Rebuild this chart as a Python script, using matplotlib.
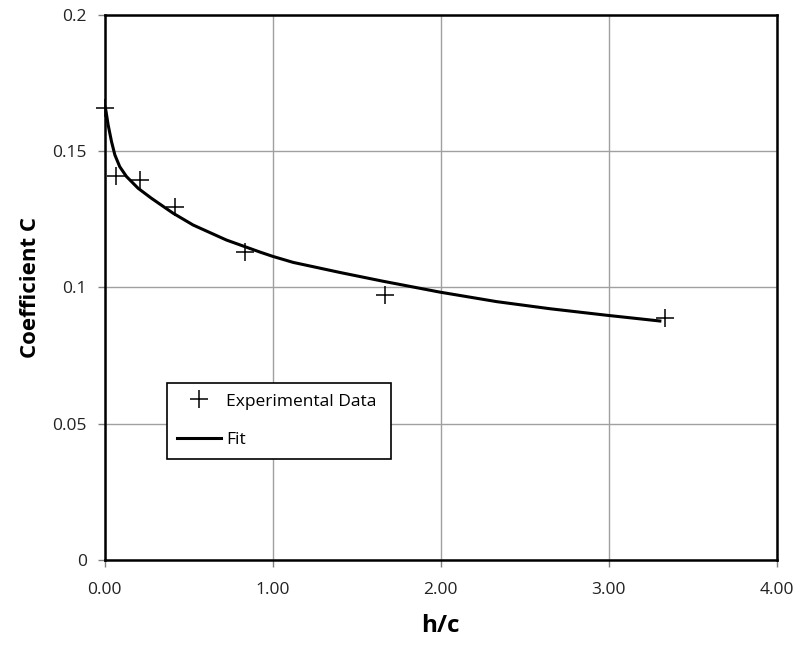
import matplotlib
matplotlib.use("Agg")
import matplotlib.pyplot as plt

# Experimental data
exp_x = [0.0, 0.067, 0.21, 0.417, 0.833, 1.667, 3.333]
exp_y = [0.166, 0.141, 0.1395, 0.1295, 0.113, 0.0972, 0.0888]

# Fit curve
fit_x = [0.0, 0.006, 0.02, 0.04, 0.06, 0.089, 0.129, 0.198, 0.278, 0.405,
         0.526, 0.724, 0.923, 1.0, 1.121, 1.4, 1.655, 1.994, 2.333, 2.65,
         2.988, 3.304]
fit_y = [0.1665, 0.1651, 0.1596, 0.1535, 0.1486, 0.1443, 0.1407, 0.1364,
         0.1327, 0.1273, 0.1229, 0.1174, 0.1130, 0.1114, 0.1092, 0.1055,
         0.1023, 0.0983, 0.0948, 0.0922, 0.0898, 0.0877]

x_ticks = [0, 1, 2, 3, 4]
x_ticklabels = ["0.00", "1.00", "2.00", "3.00", "4.00"]
y_ticks = [0, 0.05, 0.1, 0.15, 0.2]
y_ticklabels = ["0", "0.05", "0.1", "0.15", "0.2"]

plt.rcParams['font.family'] = ['Open Sans', 'DejaVu Sans']

fig = plt.figure(figsize=(8.0, 6.46), dpi=100)
ax = fig.add_axes([0.131, 0.133, 0.840, 0.844])

ax.plot(fit_x, fit_y, color='black', lw=2.2, label='Fit', zorder=3,
        solid_joinstyle='round')
ax.plot(exp_x, exp_y, ls='none', marker='+', ms=13, mew=1.1, color='black',
        label='Experimental Data', zorder=4, clip_on=False)

ax.set_xlim(0, 4)
ax.set_ylim(0, 0.2)
ax.set_xticks(x_ticks)
ax.set_xticklabels(x_ticklabels)
ax.set_yticks(y_ticks)
ax.set_yticklabels(y_ticklabels)
ax.grid(True, color='#a0a0a0', lw=1.0)
ax.set_axisbelow(True)
for s in ax.spines.values():
    s.set_linewidth(1.8)
    s.set_color('black')
ax.tick_params(direction='out', length=5, width=1, color='#808080',
               labelsize=12.5, labelcolor='#222222')
ax.tick_params(axis='x', pad=11)
ax.tick_params(axis='y', pad=8)

ax.set_xlabel('h/c', fontsize=17.5, fontweight='bold', labelpad=11)
ax.set_ylabel('Coefficient C', fontsize=16, fontweight='bold', labelpad=8)

handles, labels = ax.get_legend_handles_labels()
leg = ax.legend(handles[::-1], labels[::-1], loc='upper left',
                bbox_to_anchor=(0.0923, 0.1835, 0.3333, 0.1413), mode='expand',
                borderaxespad=0, fontsize=12.5, frameon=True, fancybox=False,
                edgecolor='black', framealpha=1, handlelength=2.5,
                borderpad=0.6, labelspacing=1.3, handletextpad=0.3)
leg.get_frame().set_linewidth(1.2)

fig.savefig('out.png', dpi=100)
